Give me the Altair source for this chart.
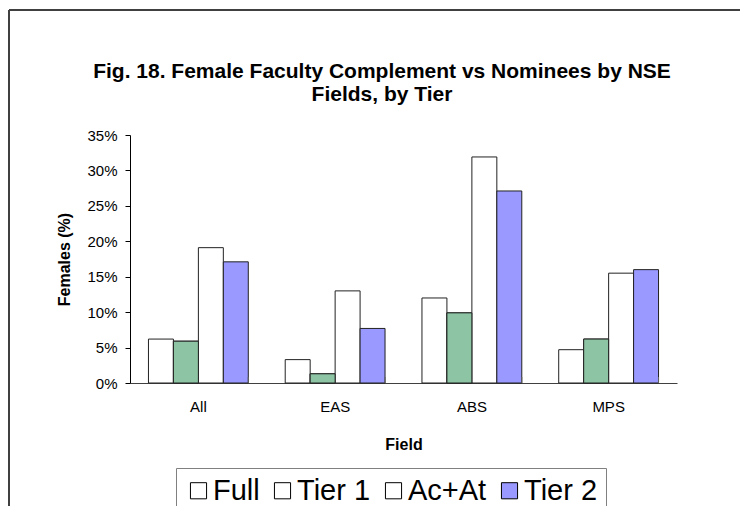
import altair as alt
import pandas as pd

fields = ["All", "EAS", "ABS", "MPS"]
series = ["Full", "Tier 1", "Ac+At", "Tier 2"]
full = [0.062, 0.033, 0.120, 0.047]
tier1 = [0.059, 0.013, 0.099, 0.062]
acat = [0.191, 0.130, 0.319, 0.155]
tier2 = [0.171, 0.077, 0.271, 0.160]
y_ticks = [0, 0.05, 0.10, 0.15, 0.20, 0.25, 0.30, 0.35]
title_lines = ["Fig. 18. Female Faculty Complement vs Nominees by  NSE", "Fields, by Tier"]

rows = []
for s, vals in zip(series, [full, tier1, acat, tier2]):
    for f, v in zip(fields, vals):
        rows.append({"field": f, "series": s, "value": v})
df = pd.DataFrame(rows)
bounds = pd.DataFrame({"field": fields})
one = pd.DataFrame({"t1": [title_lines[0]], "t2": [title_lines[1]]})

FONT = "Liberation Sans"
W, H = 547, 248

xenc = alt.X("field:N", sort=fields, title="Field",
             scale=alt.Scale(paddingInner=0.27, paddingOuter=0.135),
             axis=alt.Axis(ticks=False, domainColor="#404040", labelAngle=0,
                           labelFontSize=15, labelPadding=16, titleFontSize=16,
                           titleFontWeight="bold", titlePadding=22, labelColor="black",
                           titleColor="black", labelFont=FONT, titleFont=FONT))
yenc = alt.Y("value:Q", title="Females (%)",
             scale=alt.Scale(domain=[0, 0.35], nice=False),
             axis=alt.Axis(values=y_ticks, format=".0%", grid=False, domainColor="black",
                           tickColor="black", tickSize=5, labelFontSize=15, labelPadding=8,
                           labelOverlap=False, titleFontSize=16, titleFontWeight="bold",
                           titlePadding=14, labelColor="black", titleColor="black",
                           labelFont=FONT, titleFont=FONT))
xoff = alt.XOffset("series:N", sort=series, scale=alt.Scale(paddingInner=0, paddingOuter=0))

bars = alt.Chart(df).mark_bar(stroke="#222222", strokeWidth=1).encode(
    x=xenc,
    xOffset=xoff,
    y=yenc,
    fill=alt.Fill("series:N", sort=series,
                  scale=alt.Scale(domain=series, range=["white", "white", "white", "#9999FF"]),
                  legend=alt.Legend(title=None, orient="none", legendX=46, legendY=333,
                                    direction="horizontal", columns=4, symbolType="square",
                                    symbolSize=260, symbolStrokeColor="black",
                                    symbolStrokeWidth=1, labelFontSize=29, labelFont=FONT,
                                    labelColor="black", labelOffset=0, columnPadding=8,
                                    strokeColor="#808080", padding=8, labelLimit=300)),
)

hatch = alt.Chart(df).transform_filter(alt.datum.series == "Tier 1").mark_bar(
    stroke="#222222", strokeWidth=1, fill="#8CC4A4").encode(
    x=xenc,
    xOffset=xoff,
    y=yenc,
)

ticks = alt.Chart(bounds).mark_rule(color="#606060", strokeWidth=1).encode(
    x=alt.X("field:N", sort=fields, bandPosition=1),
    y=alt.value(H),
    y2=alt.value(H - 6),
)

frame_left = alt.Chart(one).mark_rule(color="#404040", strokeWidth=2).encode(
    x=alt.value(-121), y=alt.value(-125), y2=alt.value(400))
frame_top = alt.Chart(one).mark_rule(color="#404040", strokeWidth=2).encode(
    x=alt.value(-121), x2=alt.value(700), y=alt.value(-125))

title1 = alt.Chart(one).mark_text(font=FONT, fontSize=21, fontWeight="bold", color="black",
                                  align="center", baseline="alphabetic").encode(
    text="t1:N", x=alt.value(252), y=alt.value(-57))
title2 = alt.Chart(one).mark_text(font=FONT, fontSize=21, fontWeight="bold", color="black",
                                  align="center", baseline="alphabetic").encode(
    text="t2:N", x=alt.value(252), y=alt.value(-34))

chart = alt.layer(bars, hatch, ticks, frame_left, frame_top, title1, title2).properties(
    width=W, height=H,
    autosize=alt.AutoSizeParams(type="none"),
    padding={"left": 122, "top": 127, "right": 63, "bottom": 123},
).configure(background="white").configure_view(strokeWidth=0, strokeOpacity=0)

chart.save("out.html", embed_options={"renderer": "svg", "actions": False})
